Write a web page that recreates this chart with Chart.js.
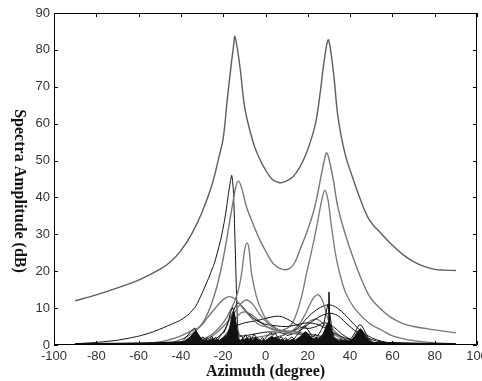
<!DOCTYPE html>
<html>
<head>
<meta charset="utf-8">
<script src="https://cdn.jsdelivr.net/npm/chart.js@4.4.1/dist/chart.umd.min.js"></script>
<style>
  html, body { margin: 0; padding: 0; background: #fff; }
  #spectra { display: block; }
</style>
</head>
<body>
<canvas id="spectra" width="482" height="381"></canvas>
<script>
/* ================= AXES ================= */
const X_TICKS = [-100, -80, -60, -40, -20, 0, 20, 40, 60, 80, 100];
const Y_TICKS = [0, 10, 20, 30, 40, 50, 60, 70, 80, 90];
const X_TITLE = "Azimuth (degree)";
const Y_TITLE = "Spectra Amplitude (dB)";

/* ================= BIG PEAK CURVES ================= */
// top curve, peaks at -14.5 and 29.6
const aX = [-90, -80, -70, -60, -50, -45, -40, -35, -30, -25, -22, -20, -18, -16, -15, -14.5, -13.5, -12, -10, -8, -5, -2, 0, 3, 6.7, 10, 13, 16, 19, 22, 24, 26, 27.5, 29.6, 31, 32.5, 34, 36, 38, 40, 44.5, 49, 55, 59, 65, 70, 75, 80, 85, 90];
const aY = [12, 13.6, 15.5, 17.6, 20.5, 22.5, 25.6, 30, 36, 44, 51, 56, 67, 77, 81.5, 83.7, 81, 75, 65, 59.5, 53.5, 49.5, 47.5, 45, 44, 44.5, 45.6, 48, 51.5, 56.5, 61, 69, 76, 82.7, 79, 72, 63, 56, 51, 47.4, 40, 34, 30, 27.6, 24.5, 22.6, 21.3, 20.5, 20.3, 20.2];

// black sharp peak at -16
const bX = [-90, -80, -70, -60, -53, -47, -40, -36, -33, -30, -27, -24, -21, -19, -17.5, -16, -15.2, -14.6, -14, -13.5, -13, -12, -10, -5, 0, 5, 10];
const bY = [0.3, 0.7, 1.3, 2.4, 3.6, 5, 6.8, 8.5, 10.5, 14, 18, 22.5, 29, 35, 41, 46, 42, 32, 20, 10, 4, 2.5, 2.5, 3, 3.5, 3.5, 3];

// grey curve, peaks at -13 and 28.8
const cX = [-60, -50, -45, -40, -35, -31, -27, -23, -20.5, -18.4, -16.5, -15.3, -14, -12.9, -11.5, -9, -6, -2.7, 0.5, 3.6, 8, 11.5, 14, 16.2, 19.5, 22.5, 24.5, 26.5, 28, 28.8, 30, 32, 34, 36.7, 40, 44.5, 49.3, 54, 58.7, 65, 70, 80, 90];
const cY = [0.3, 0.8, 1.5, 2.5, 3.8, 5, 9, 15.8, 22, 28.5, 35, 39, 43, 44.5, 43, 37.5, 33, 28.5, 25, 22.1, 20.5, 20.8, 22.5, 25.7, 30.5, 35.7, 40.5, 46.5, 50.5, 52.1, 50.5, 45, 38, 32, 26, 19, 13.1, 10, 7.7, 5.8, 5, 4.1, 3.3];

// grey curve, peak at 28
const dX = [-10, 0, 5, 8, 11.5, 14, 17, 19.4, 22, 24.5, 26.5, 28, 29.5, 31, 33, 35.1, 38, 42, 49, 55, 60, 70, 80, 90];
const dY = [1.5, 2.5, 3.2, 4, 5, 7.5, 13, 19.4, 26, 33, 39, 42, 39.5, 33, 25, 19.4, 14, 10, 5.9, 4, 2.5, 1.2, 0.6, 0.3];

// grey curve, peak at -8.5
const eX = [-35, -30, -25, -20, -16, -13, -11.3, -9.8, -8.7, -7.8, -6.6, -4.3, -2, 0.5, 5, 10, 15, 20, 25, 30, 40, 50, 60];
const eY = [0.5, 1.5, 3, 6, 10, 14.5, 19.4, 26, 27.7, 26, 19.4, 13.1, 9.5, 6.8, 4.5, 3.5, 3, 3, 2.5, 1.8, 0.9, 0.4, 0.2];

/* ================= SMALL HUMPS ================= */
const h1X = [-50, -45, -40, -35, -30, -27, -23, -20, -17, -14, -10, -6, -3, 0, 3, 6, 10, 15, 20, 30, 40, 50];
const h1Y = [0.2, 0.5, 1.5, 3, 5.5, 7.7, 10.5, 12.3, 13.1, 12.3, 9.5, 7, 5.5, 5, 4.5, 4, 3.5, 3, 2.5, 1.5, 0.8, 0.4];

const h2X = [-30, -25, -20, -15, -12, -9, -6, -3, 0, 3, 6, 10, 15, 20, 25, 30, 40, 50];
const h2Y = [1, 2.5, 5, 8.5, 11, 12.2, 11, 8.5, 6.5, 5, 4.2, 3.8, 3.5, 3, 2.5, 2, 1, 0.5];

const h3X = [-25, -20, -17, -15, -13, -11, -8, -5, -2, 1, 5, 10, 15, 20, 25, 30, 35, 40, 50];
const h3Y = [1, 3.5, 7, 9.5, 11.4, 10.5, 8.5, 7, 6, 5.5, 5.2, 5, 5.5, 6, 5.5, 4, 2.5, 1.5, 0.5];

const h4X = [-15, -10, -5, 0, 5, 8, 12, 16, 20, 24, 28, 32, 36, 40];
const h4Y = [5, 6, 6.5, 7.2, 7.8, 7.6, 6.5, 5, 4.5, 5, 6, 5, 3, 1.5];

const h5X = [5, 10, 15, 18, 21, 23, 25, 27, 29, 31, 34, 38, 45];
const h5Y = [2, 3, 5, 7.5, 11, 13, 13.6, 12, 8, 5, 3, 1.5, 0.6];

const h6X = [5, 10, 15, 20, 24, 28, 31, 34, 38, 42, 46, 50, 55, 60, 70];
const h6Y = [2, 3, 4.5, 7.5, 9.5, 10.7, 10.8, 10, 8, 5.5, 3.5, 2, 1, 0.5, 0.2];

const h7X = [10, 15, 20, 25, 30, 34, 38, 42, 46, 50, 55, 60];
const h7Y = [2.5, 3.5, 5.5, 7.5, 8.6, 8, 6, 4, 2.5, 1.5, 0.8, 0.4];

const h8X = [-20, -16, -13, -10, -6, -2, 2, 6, 10, 14, 18, 21, 24, 27, 30, 35, 40];
const h8Y = [2, 5, 8, 9, 8, 6, 4.5, 3.8, 3.6, 4, 5, 6.5, 7, 6, 4, 2, 1];

/* ================= NOISE FLOOR ================= */
const noiseStart = -40;   // 1 degree steps
const noiseCore = [0.5, 0.8, 1.2, 1.6, 2, 2.6, 3.2, 3.8, 3, 2.2, 1.6, 1.3, 1.5, 1.2, 1.4, 1.8, 1.3, 1.5, 1.2, 1.6, 2, 2.4, 3, 4.6, 7.5, 9, 6, 2, 1.2, 1.7, 1.4, 1.9, 1.5, 1.7, 1.3, 2.1, 1.6, 1.3, 1.1, 1.5, 1.2, 1.6, 2, 2.4, 1.9, 2.2, 1.7, 1.4, 1.6, 1.2, 1.5, 1.1, 1.4, 1.6, 1.3, 1.7, 2.1, 2.6, 3.2, 3.6, 3, 2.5, 1.9, 1.6, 2.1, 1.7, 2.2, 2.8, 4, 5.5, 6.5, 4.5, 2.2, 1.6, 1.2, 1, 1.3, 1, 1.2, 0.9, 1.1, 1.6, 2.3, 3.2, 4, 4.4, 3.7, 2.8, 1.9, 1.2, 0.8, 0.5, 0.4, 0.3, 0.25, 0.2, 0.15, 0.12, 0.1, 0.1, 0.1];

const noiseEdgeStart = -39.5;   // 1 degree steps
const noiseEdge = [0.9, 1.5, 2.2, 2.8, 3.6, 4.2, 4.6, 3.5, 2.6, 1.8, 2.2, 1.5, 2, 1.3, 2.4, 1.6, 2.1, 1.3, 2.4, 2.9, 3.5, 4.8, 6.5, 9, 10.2, 8, 4, 2, 2.6, 1.7, 2.8, 1.9, 2.5, 1.6, 3, 2.2, 1.7, 1.3, 2, 1.5, 2.2, 2.8, 3.4, 2.6, 3.2, 2.4, 1.8, 2.2, 1.5, 2, 1.3, 1.8, 2.2, 1.6, 2.4, 3, 3.8, 4.6, 5.2, 4.4, 3.8, 2.8, 2.2, 3, 2.4, 3.2, 4.2, 5.5, 8.5, 11, 8, 4, 2.2, 1.6, 1.2, 1.6, 1.1, 1.5, 1, 1.4, 1.8, 2.6, 3.6, 4.8, 5.5, 5.2, 4.2, 3, 2, 1.3, 0.9, 0.6, 0.5, 0.4, 0.35, 0.3, 0.25, 0.2, 0.2, 0.15];

const spikeX = [29.6, 30, 30.4];
const spikeY = [3, 14.4, 3];

const baseX = [-90, -70, -50, -40, 60, 75, 90];
const baseY = [0.2, 0.3, 0.5, 0.7, 0.5, 0.3, 0.2];

/* ================= HELPERS ================= */
const GREY = "#777777";
const BLACK = "#111111";

function pts(xs, ys) {
    return xs.map((x, i) => ({ x: x, y: ys[i] }));
}

function stepPts(start, ys) {
    return ys.map((y, i) => ({ x: start + i, y: y }));
}

function curve(data, color, width, extra) {
    return Object.assign({
        data: data,
        borderColor: color,
        borderWidth: width,
        pointRadius: 0,
        tension: 0.35,
        fill: false
    }, extra || {});
}

/* ================= FRAME + TITLES ================= */
const framePlugin = {
    id: "frame",
    afterDatasetsDraw(chart) {
        const { ctx, chartArea: a, scales } = chart;
        ctx.save();
        ctx.strokeStyle = "#000";
        ctx.lineWidth = 1;
        ctx.beginPath();
        ctx.rect(a.left + 0.5, a.top + 0.5, a.right - a.left - 1, a.bottom - a.top - 1);
        ctx.stroke();

        const len = 4;
        ctx.beginPath();
        X_TICKS.forEach(v => {
            const px = Math.round(scales.x.getPixelForValue(v)) + 0.5;
            ctx.moveTo(px, a.bottom);
            ctx.lineTo(px, a.bottom - len);
            ctx.moveTo(px, a.top);
            ctx.lineTo(px, a.top + len);
        });
        Y_TICKS.forEach(v => {
            const py = Math.round(scales.y.getPixelForValue(v)) + 0.5;
            ctx.moveTo(a.left, py);
            ctx.lineTo(a.left + len, py);
            ctx.moveTo(a.right, py);
            ctx.lineTo(a.right - len, py);
        });
        ctx.stroke();

        ctx.fillStyle = "#111";
        ctx.font = "bold 16px 'Liberation Serif', 'Times New Roman', serif";
        ctx.textAlign = "center";
        ctx.textBaseline = "alphabetic";
        ctx.fillText(X_TITLE, (a.left + a.right) / 2, 376);

        ctx.translate(19, 191);
        ctx.rotate(Math.PI / 2);
        ctx.textBaseline = "middle";
        ctx.fillText(Y_TITLE, 0, 0);
        ctx.restore();
    }
};

/* ================= CHART ================= */
new Chart(document.getElementById("spectra"), {
    type: "line",
    data: {
        datasets: [
            curve(pts(baseX, baseY), BLACK, 2.5, { tension: 0 }),
            curve(stepPts(noiseStart, noiseCore), BLACK, 1, { tension: 0, fill: "origin", backgroundColor: BLACK }),
            curve(stepPts(noiseEdgeStart, noiseEdge), BLACK, 1, { tension: 0 }),
            curve(pts(spikeX, spikeY), BLACK, 1.5, { tension: 0 }),
            curve(pts(h1X, h1Y), GREY, 1.3),
            curve(pts(h2X, h2Y), GREY, 1.3),
            curve(pts(h3X, h3Y), BLACK, 1),
            curve(pts(h4X, h4Y), BLACK, 1),
            curve(pts(h5X, h5Y), GREY, 1.3),
            curve(pts(h6X, h6Y), BLACK, 1),
            curve(pts(h7X, h7Y), BLACK, 1),
            curve(pts(h8X, h8Y), GREY, 1.3),
            curve(pts(eX, eY), GREY, 1.3),
            curve(pts(dX, dY), GREY, 1.3),
            curve(pts(cX, cY), GREY, 1.4),
            curve(pts(bX, bY), BLACK, 1, { tension: 0.2 }),
            curve(pts(aX, aY), "#5e5e5e", 1.4)
        ]
    },
    options: {
        responsive: false,
        animation: false,
        devicePixelRatio: 1,
        layout: { padding: { top: 13, right: 5, left: 0, bottom: 0 } },
        plugins: {
            legend: { display: false },
            tooltip: { enabled: false }
        },
        scales: {
            x: {
                type: "linear",
                min: -100,
                max: 100,
                afterBuildTicks: s => { s.ticks = X_TICKS.map(v => ({ value: v })); },
                afterFit: s => { s.height = 36; s.paddingLeft = 0; s.paddingRight = 0; },
                grid: { display: false, drawTicks: false },
                border: { display: false },
                ticks: {
                    padding: 4,
                    color: "#333333",
                    maxRotation: 0,
                    autoSkip: false,
                    font: { family: "'Liberation Sans', Arial, sans-serif", size: 13 }
                }
            },
            y: {
                min: 0,
                max: 90,
                afterBuildTicks: s => { s.ticks = Y_TICKS.map(v => ({ value: v })); },
                afterFit: s => { s.width = 54; },
                grid: { display: false, drawTicks: false },
                border: { display: false },
                ticks: {
                    padding: 4,
                    color: "#333333",
                    font: { family: "'Liberation Sans', Arial, sans-serif", size: 13 }
                }
            }
        }
    },
    plugins: [framePlugin]
});
</script>
</body>
</html>
